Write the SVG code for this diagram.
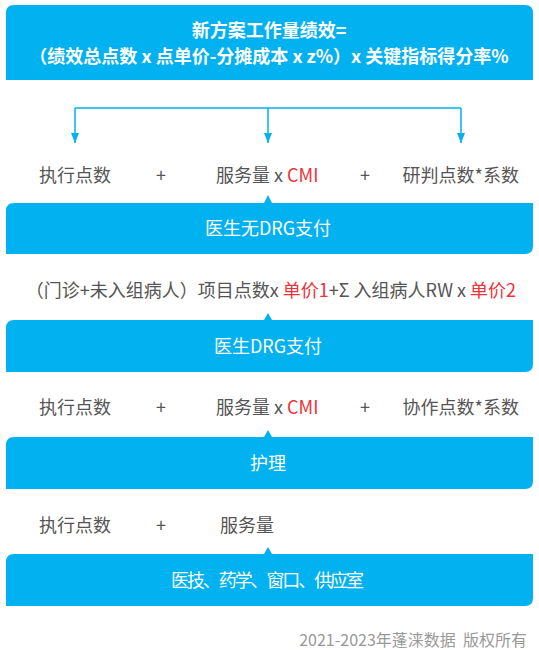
<svg xmlns="http://www.w3.org/2000/svg" width="539" height="650" viewBox="0 0 539 650">
<style>
.box{fill:#02B1EF}
.t{font-family:"Noto Sans CJK SC","Noto Sans",sans-serif;font-size:18px;fill:#555555}
.w{font-family:"Noto Sans CJK SC","Noto Sans",sans-serif;font-size:18px;fill:#ffffff}
.b{font-weight:bold}
.r{fill:#EE3238}
.f{font-family:"Noto Sans CJK SC","Noto Sans",sans-serif;font-size:16px;fill:#999999}
.ln{stroke:#02B1EF;stroke-width:1.5;fill:none}
</style>
<defs>
<marker id="ah" viewBox="0 0 10 8" refX="10" refY="4" markerWidth="12" markerHeight="8" markerUnits="userSpaceOnUse" orient="auto">
<path d="M0,0 L10,4 L0,8 Z" fill="#02B1EF"/>
</marker>
</defs>
<rect width="539" height="650" fill="#ffffff"/>
<g id="top">
<path class="box" d="M14,5 H525 Q533,5 533,13 V80 H6 V13 Q6,5 14,5 Z"/>
<text class="w b" x="269" y="37" text-anchor="middle">新方案工作量绩效=</text>
<text class="w b" x="269" y="63" text-anchor="middle">（绩效总点数 x 点单价-分摊成本 x z%）x 关键指标得分率%</text>
</g>
<g id="connectors">
<path class="ln" d="M75,108 H461"/>
<path class="ln" d="M75,108 V143" marker-end="url(#ah)"/>
<path class="ln" d="M268,108 V143" marker-end="url(#ah)"/>
<path class="ln" d="M461,108 V143" marker-end="url(#ah)"/>
</g>
<g id="row1">
<text class="t" x="39" y="182">执行点数</text>
<text class="t" x="161" y="182" text-anchor="middle">+</text>
<text class="t" x="216" y="182">服务量 x <tspan class="r">CMI</tspan></text>
<text class="t" x="365" y="182" text-anchor="middle">+</text>
<text class="t" x="519" y="182" text-anchor="end">研判点数*系数</text>
</g>
<g id="node-doctor-nodrg">
<path class="box" d="M14,203 H264 L268,195 L272,203 H533 V246 Q533,254 525,254 H6 V211 Q6,203 14,203 Z"/>
<text class="w" x="268" y="235" text-anchor="middle">医生无DRG支付</text>
</g>
<g id="row2">
<text class="t" x="516" y="297" text-anchor="end">（门诊+未入组病人）项目点数x <tspan class="r">单价1</tspan>+Σ 入组病人RW x <tspan class="r">单价2</tspan></text>
</g>
<g id="node-doctor-drg">
<path class="box" d="M14,320 H264 L268,313 L272,320 H533 V364 Q533,372 525,372 H6 V328 Q6,320 14,320 Z"/>
<text class="w" x="268" y="353" text-anchor="middle">医生DRG支付</text>
</g>
<g id="row3">
<text class="t" x="39" y="414">执行点数</text>
<text class="t" x="161" y="414" text-anchor="middle">+</text>
<text class="t" x="216" y="414">服务量 x <tspan class="r">CMI</tspan></text>
<text class="t" x="365" y="414" text-anchor="middle">+</text>
<text class="t" x="519" y="414" text-anchor="end">协作点数*系数</text>
</g>
<g id="node-nursing">
<path class="box" d="M14,437 H264 L268,430 L272,437 H533 V481 Q533,489 525,489 H6 V445 Q6,437 14,437 Z"/>
<text class="w" x="268" y="470" text-anchor="middle">护理</text>
</g>
<g id="row4">
<text class="t" x="39" y="532">执行点数</text>
<text class="t" x="161" y="532" text-anchor="middle">+</text>
<text class="t" x="220" y="532">服务量</text>
</g>
<g id="node-tech">
<path class="box" d="M14,554 H264 L268,547 L272,554 H533 V598 Q533,606 525,606 H6 V562 Q6,554 14,554 Z"/>
<text class="w" x="171" y="587" textLength="193" lengthAdjust="spacing">医技、药学、窗口、供应室</text>
</g>
<text class="f" x="527" y="646" text-anchor="end" xml:space="preserve">2021-2023年蓬涞数据  版权所有</text>
</svg>
